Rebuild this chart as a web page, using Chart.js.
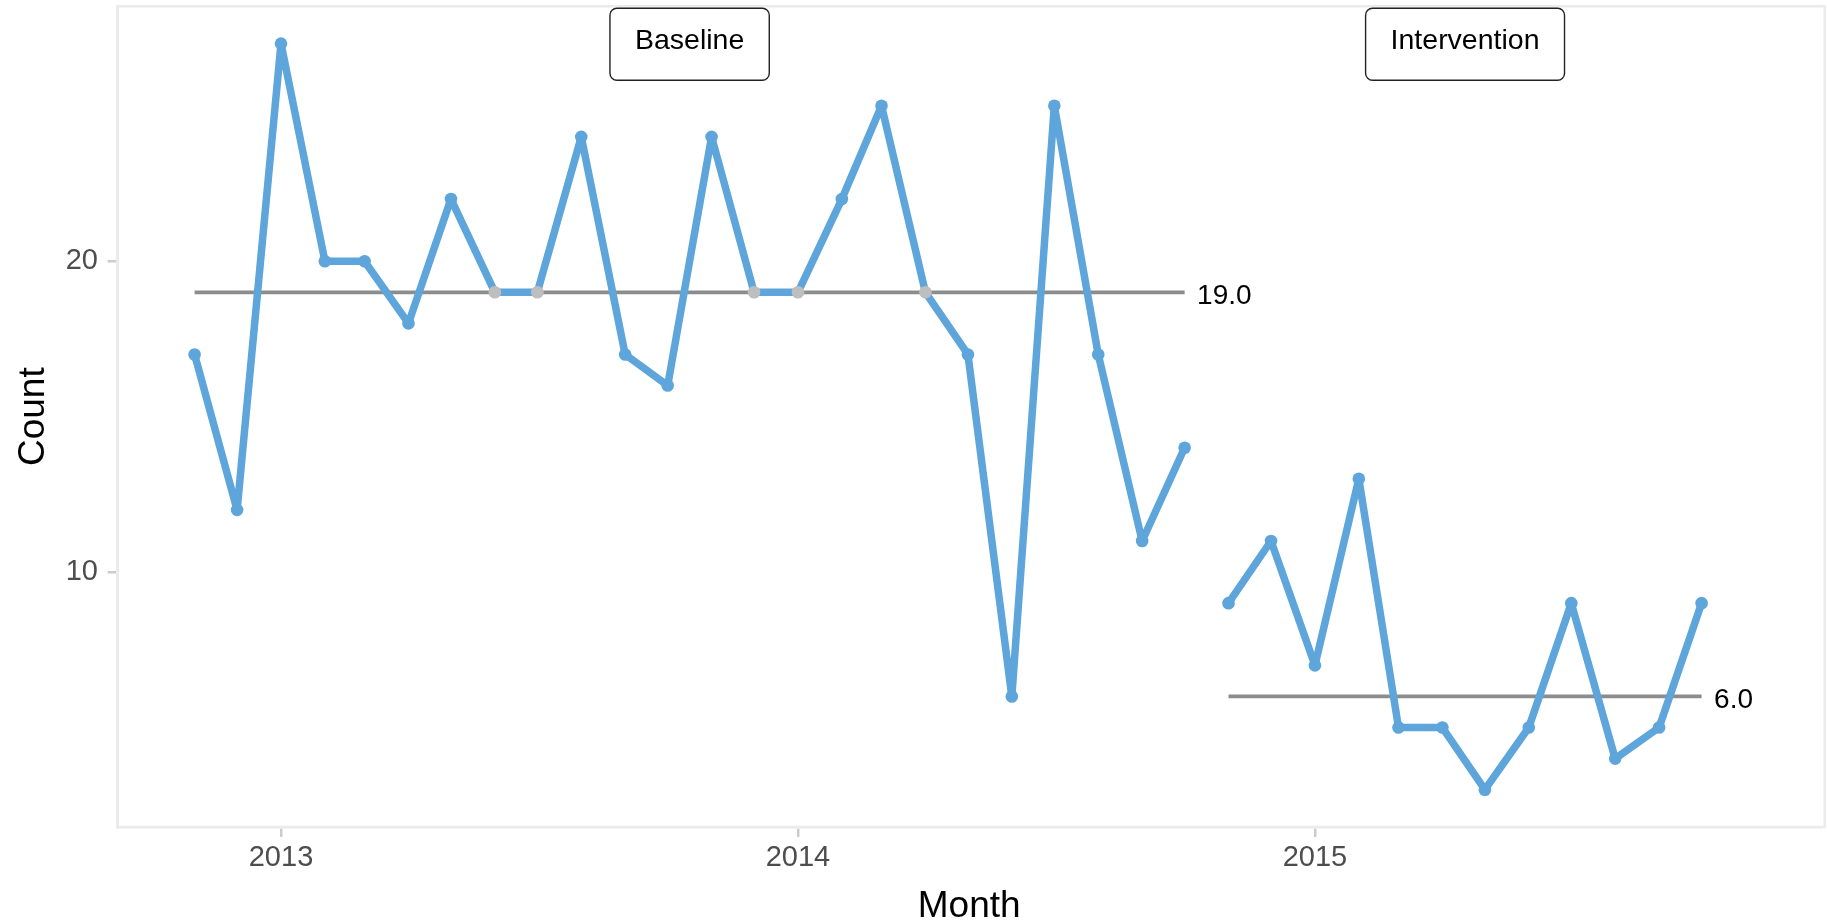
<!DOCTYPE html>
<html><head><meta charset="utf-8">
<script src="https://cdn.jsdelivr.net/npm/chart.js@4.4.1/dist/chart.umd.min.js"></script>
<style>html,body{margin:0;padding:0;background:#fff;} #wrap{width:1827px;height:923px;position:relative;}</style>
</head><body><div id="wrap"><canvas id="c" width="1827" height="923"></canvas></div>
<script>
// ---- data ----
const baselineMonths = ["2012-11","2012-12","2013-01","2013-02","2013-03","2013-04","2013-05","2013-06","2013-07","2013-08","2013-09","2013-10","2013-11","2013-12","2014-01","2014-02","2014-03","2014-04","2014-05","2014-06","2014-07","2014-08","2014-09","2014-10"];
const baselineCounts = [17,12,27,20,20,18,22,19,19,24,17,16,24,19,19,22,25,19,17,6,25,17,11,14];
const interventionMonths = ["2014-11","2014-12","2015-01","2015-02","2015-03","2015-04","2015-05","2015-06","2015-07","2015-08","2015-09","2015-10"];
const interventionCounts = [9,11,7,13,5,5,3,5,9,4,5,9];
const phaseNames = ["Baseline","Intervention"];
const phaseMedians = [19.0, 6.0];
const yearTicks = ["2013","2014","2015"];
const countTicks = [10, 20];

// ---- helpers ----
const ORIGIN = Date.UTC(2013,0,1);
function dayOf(str){ const p = str.split("-"); return (Date.UTC(+p[0], (+p[1]||1)-1, 1) - ORIGIN)/86400000; }
const BLUE = "#5DA5DA", GREYPT = "#BEBEBE", MEDCOL = "#8C8C8C";
const FONT = "'Liberation Sans', Arial, Helvetica, sans-serif";

function series(months, counts){ return months.map((m,i)=>({x: dayOf(m), y: counts[i]})); }
function medianLine(months, med){ return [{x: dayOf(months[0]), y: med}, {x: dayOf(months[months.length-1]), y: med}]; }
function pointColors(counts, med){ return counts.map(v => v === med ? GREYPT : BLUE); }

const phases = [
  {name: phaseNames[0], months: baselineMonths, counts: baselineCounts, med: phaseMedians[0]},
  {name: phaseNames[1], months: interventionMonths, counts: interventionCounts, med: phaseMedians[1]}
];

const datasets = [];
phases.forEach(ph => {
  datasets.push({
    data: series(ph.months, ph.counts),
    borderColor: BLUE, borderWidth: 7.5, borderJoinStyle: 'round', borderCapStyle: 'butt',
    pointRadius: 6.3, pointBorderWidth: 0,
    pointBackgroundColor: pointColors(ph.counts, ph.med),
    pointBorderColor: pointColors(ph.counts, ph.med),
    fill: false, tension: 0, order: 1
  });
});
phases.forEach(ph => {
  datasets.push({
    data: medianLine(ph.months, ph.med),
    borderColor: MEDCOL, borderWidth: 3.8, pointRadius: 0, fill: false, order: 2,
    borderCapStyle: 'butt'
  });
});

const annot = {
  id: 'annot',
  beforeDatasetsDraw(chart){
    const {ctx, chartArea: a} = chart;
    ctx.save();
    ctx.strokeStyle = '#EBEBEB'; ctx.lineWidth = 2.5;
    ctx.strokeRect(a.left, a.top, a.right - a.left + 4, a.bottom - a.top);
    ctx.restore();
  },
  afterDatasetsDraw(chart){
    const {ctx, chartArea: a, scales: {x, y}} = chart;
    ctx.save();
    // median labels
    ctx.font = "28px " + FONT;
    ctx.fillStyle = '#000';
    ctx.textAlign = 'left'; ctx.textBaseline = 'middle';
    phases.forEach(ph => {
      const px = x.getPixelForValue(dayOf(ph.months[ph.months.length-1])) + 12.5;
      const py = y.getPixelForValue(ph.med) + 4;
      ctx.fillText(ph.med.toFixed(1), px, py);
    });
    // phase label boxes
    ctx.font = "28.5px " + FONT;
    phases.forEach(ph => {
      const cx = (x.getPixelForValue(dayOf(ph.months[0])) + x.getPixelForValue(dayOf(ph.months[ph.months.length-1]))) / 2;
      const tw = ctx.measureText(ph.name).width;
      const w = tw + 50, h = 72, top = a.top + 2, left = cx - w/2, r = 7;
      ctx.beginPath();
      ctx.moveTo(left + r, top);
      ctx.lineTo(left + w - r, top); ctx.arcTo(left + w, top, left + w, top + r, r);
      ctx.lineTo(left + w, top + h - r); ctx.arcTo(left + w, top + h, left + w - r, top + h, r);
      ctx.lineTo(left + r, top + h); ctx.arcTo(left, top + h, left, top + h - r, r);
      ctx.lineTo(left, top + r); ctx.arcTo(left, top, left + r, top, r);
      ctx.closePath();
      ctx.fillStyle = '#fff'; ctx.fill();
      ctx.strokeStyle = '#222'; ctx.lineWidth = 1.4; ctx.stroke();
      ctx.fillStyle = '#000'; ctx.textAlign = 'center'; ctx.textBaseline = 'middle';
      ctx.fillText(ph.name, cx, top + 32.5);
    });
    ctx.restore();
  }
};

new Chart(document.getElementById('c'), {
  type: 'line',
  data: { datasets },
  options: {
    responsive: false, animation: false, devicePixelRatio: 1,
    layout: { padding: { top: 6, right: 0, left: 0, bottom: 0 } },
    plugins: { legend: { display: false }, tooltip: { enabled: false } },
    scales: {
      x: {
        type: 'linear', min: -115.3, max: 1087.1,
        afterBuildTicks: s => { s.ticks = yearTicks.map(t => ({ value: dayOf(t + "-01") })); },
        afterFit: s => { s.height = 96; s.paddingLeft = 0; s.paddingRight = 0; },
        ticks: {
          callback: v => yearTicks.find(t => dayOf(t + "-01") === v) || '',
          font: { family: FONT, size: 29 }, color: '#4D4D4D', padding: 4,
          maxRotation: 0, autoSkip: false
        },
        grid: { display: true, drawOnChartArea: false, drawTicks: true, tickLength: 10, tickColor: '#CCCCCC', tickWidth: 2.5, lineWidth: 2.5 },
        border: { display: true, color: '#EBEBEB', width: 2.5 },
        title: { display: true, text: 'Month', color: '#000', font: { family: FONT, size: 37, lineHeight: 0.9 }, padding: { top: 0, bottom: 0 } }
      },
      y: {
        type: 'linear', min: 1.8, max: 28.2,
        afterBuildTicks: s => { s.ticks = countTicks.map(v => ({ value: v })); },
        afterFit: s => { s.width = 117.7; s.paddingTop = 0; s.paddingBottom = 0; },
        ticks: { font: { family: FONT, size: 29 }, color: '#4D4D4D', padding: 9.7 },
        grid: { display: true, drawOnChartArea: false, drawTicks: true, tickLength: 10, tickColor: '#CCCCCC', tickWidth: 2.5, lineWidth: 2.5 },
        border: { display: true, color: '#EBEBEB', width: 2.5 },
        title: { display: true, text: 'Count', color: '#000', font: { family: FONT, size: 37, lineHeight: 1.1 }, padding: { top: 13, bottom: 0 } }
      }
    }
  },
  plugins: [annot]
});
</script>
</body></html>
